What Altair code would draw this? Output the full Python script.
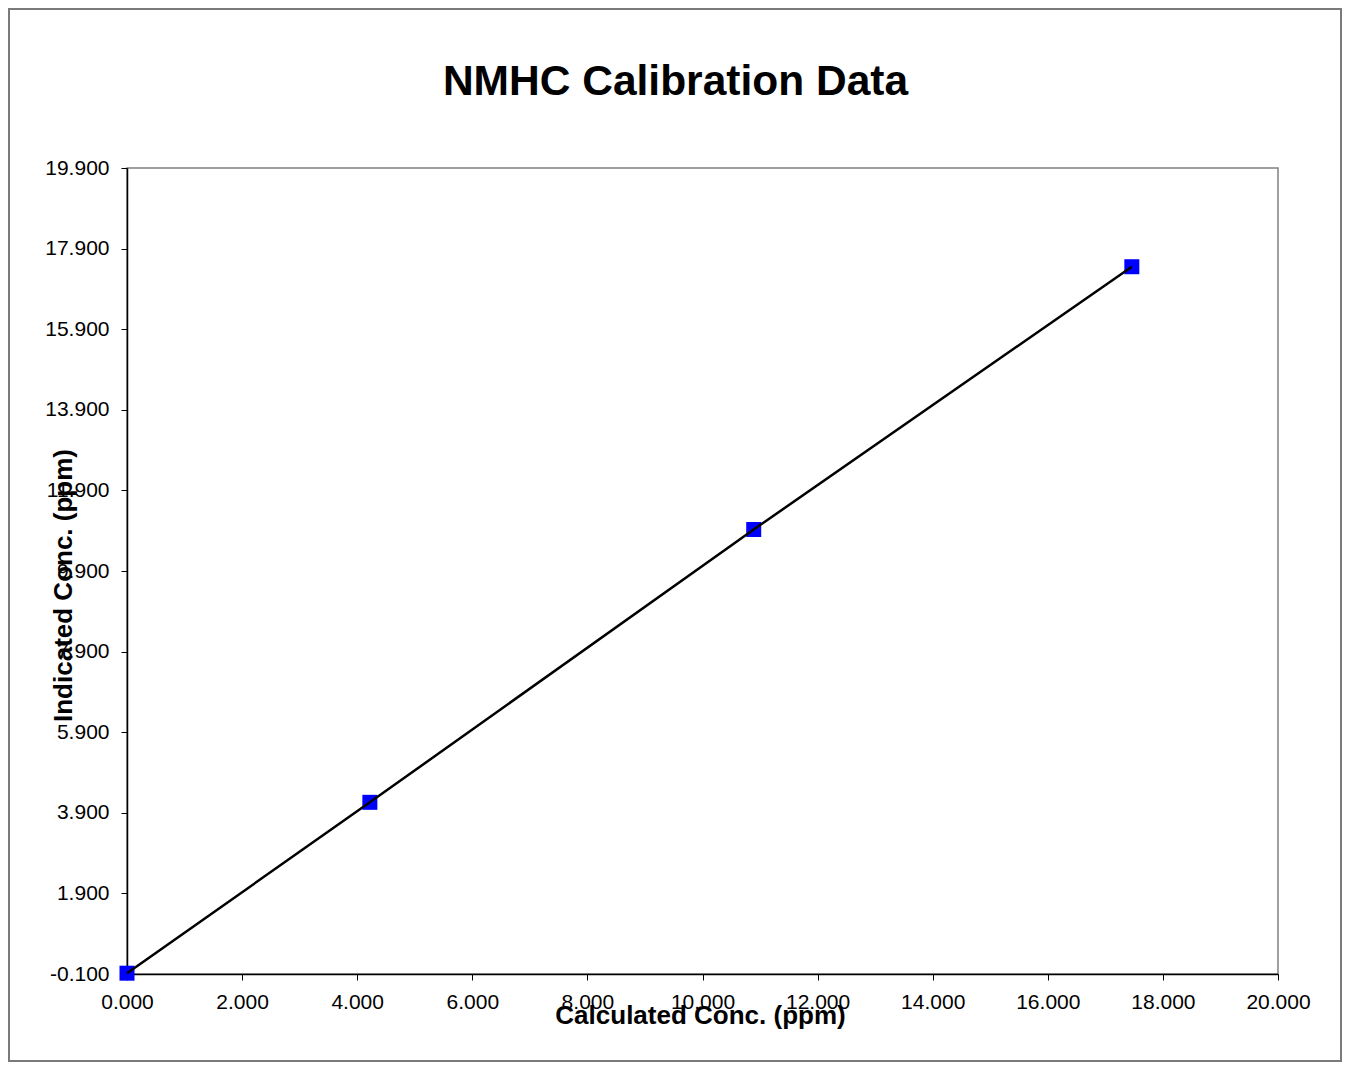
import altair as alt
import pandas as pd

# Data
calculated = [0.0, 4.22, 10.89, 17.46]
indicated = [-0.08, 4.16, 10.93, 17.45]

x_ticks = [0, 2, 4, 6, 8, 10, 12, 14, 16, 18, 20]
y_ticks = [-0.1, 1.9, 3.9, 5.9, 7.9, 9.9, 11.9, 13.9, 15.9, 17.9, 19.9]

df = pd.DataFrame({"calc": calculated, "ind": indicated})

W, H = 1151, 806
PAD = {"left": 119, "top": 160, "right": 64, "bottom": 88}
FONT = "Liberation Sans"
LABEL_EXPR = "replace(format(datum.value, '.3f'), '\u2212', '-')"

x_enc = alt.X(
    "calc:Q",
    scale=alt.Scale(domain=[0, 20], nice=False, zero=False),
    axis=alt.Axis(
        values=x_ticks, labelExpr=LABEL_EXPR, title="Calculated Conc. (ppm)",
        titleX=573, titleY=49, titleBaseline="alphabetic", titleAlign="center",
        labelFlush=False,
    ),
)
y_enc = alt.Y(
    "ind:Q",
    scale=alt.Scale(domain=[-0.1, 19.9], nice=False, zero=False),
    axis=alt.Axis(
        values=y_ticks, labelExpr=LABEL_EXPR, title="Indicated Conc. (ppm)",
        titleX=-56, titleY=417, titleBaseline="alphabetic", titleAlign="center",
        titleAngle=270, labelFlush=False,
    ),
)

points = alt.Chart(df).mark_point(
    shape="square", size=225, filled=True, color="#0000FF", opacity=1, strokeWidth=0
).encode(x=x_enc, y=y_enc)

line = alt.Chart(df).mark_line(color="black", strokeWidth=2.5).encode(
    x=alt.X("calc:Q"), y=alt.Y("ind:Q")
)

frame = alt.Chart(pd.DataFrame({"k": [0]})).mark_rect(
    filled=False, stroke="#7a7a7a", strokeWidth=2
).encode(
    x=alt.value(-PAD["left"] + 1),
    x2=alt.value(W + PAD["right"] - 1),
    y=alt.value(-PAD["top"] + 1),
    y2=alt.value(H + PAD["bottom"] - 1),
)

chart = alt.layer(frame, points, line).properties(
    width=W,
    height=H,
    padding=PAD,
    background="white",
    autosize=alt.AutoSizeParams(type="none"),
    title=alt.TitleParams(
        "NMHC Calibration Data", anchor="middle", frame="group", dx=-27,
        offset=0, dy=129, baseline="alphabetic",
        font=FONT, fontSize=42.5, fontWeight="bold", color="black",
    ),
).configure_view(
    stroke="#808080", strokeWidth=1.5
).configure_axis(
    grid=False,
    domainColor="black",
    domainWidth=1.5,
    tickColor="black",
    tickSize=6,
    labelFont=FONT,
    labelFontSize=21,
    labelColor="black",
    labelPadding=11,
    titleFont=FONT,
    titleFontSize=26,
    titleFontWeight="bold",
    titleColor="black",
    labelOverlap=False,
).configure_axisY(
    labelPadding=12,
)

chart.save("out.html", embed_options={"renderer": "svg", "actions": False})
